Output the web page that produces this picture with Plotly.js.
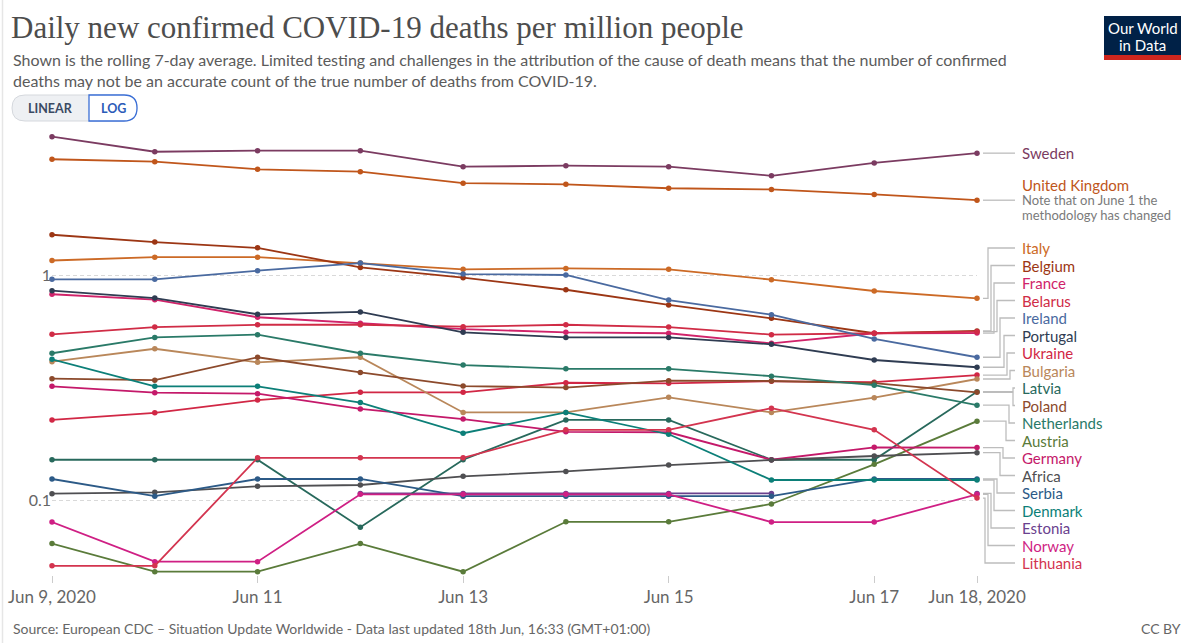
<!DOCTYPE html>
<html>
<head>
<meta charset="utf-8">
<script src="https://cdn.plot.ly/plotly-3.0.1.min.js"></script>
<style>
  html, body { margin: 0; padding: 0; background: #fff; }
  #chart { width: 1200px; height: 643px; }
</style>
</head>
<body>
<div id="chart"></div>
<script>
// dates (one point per day)
const dates = ['2020-06-09', '2020-06-10', '2020-06-11', '2020-06-12', '2020-06-13',
  '2020-06-14', '2020-06-15', '2020-06-16', '2020-06-17', '2020-06-18'];

// daily new confirmed deaths per million, rolling 7-day average
const sweden      = [4.12, 3.53, 3.57, 3.57, 3.03, 3.06, 3.03, 2.76, 3.15, 3.48];
const uk          = [3.27, 3.19, 2.95, 2.88, 2.56, 2.53, 2.43, 2.40, 2.28, 2.15];
const italy       = [1.16, 1.20, 1.20, 1.13, 1.06, 1.07, 1.06, 0.953, 0.849, 0.788];
const belgium     = [1.51, 1.40, 1.32, 1.08, 0.973, 0.86, 0.736, 0.642, 0.551, 0.564];
const france      = [0.821, 0.777, 0.649, 0.61, 0.575, 0.556, 0.551, 0.497, 0.551, 0.552];
const belarus     = [0.545, 0.587, 0.601, 0.601, 0.589, 0.601, 0.587, 0.543, 0.551, 0.56];
const ireland     = [0.957, 0.957, 1.045, 1.13, 1.01, 1.0, 0.774, 0.666, 0.52, 0.431];
const portugal    = [0.852, 0.79, 0.669, 0.685, 0.556, 0.528, 0.528, 0.492, 0.419, 0.389];
const ukraine     = [0.227, 0.244, 0.278, 0.301, 0.301, 0.332, 0.33, 0.337, 0.334, 0.359];
const bulgaria    = [0.412, 0.47, 0.409, 0.431, 0.245, 0.245, 0.286, 0.245, 0.285, 0.345];
const latvia      = [0.151, 0.151, 0.151, 0.0757, 0.151, 0.227, 0.227, 0.151, 0.151, 0.303];
const poland      = [0.346, 0.341, 0.431, 0.369, 0.321, 0.316, 0.339, 0.338, 0.331, 0.301];
const netherlands = [0.449, 0.528, 0.543, 0.449, 0.398, 0.383, 0.383, 0.355, 0.324, 0.264];
const austria     = [0.064, 0.048, 0.048, 0.064, 0.048, 0.080, 0.080, 0.096, 0.144, 0.224];
const germany     = [0.32, 0.30, 0.297, 0.254, 0.229, 0.201, 0.20, 0.151, 0.1715, 0.171];
const africa      = [0.1067, 0.1082, 0.115, 0.1166, 0.1274, 0.134, 0.143, 0.1506, 0.1569, 0.1623];
const serbia      = [0.124, 0.104, 0.124, 0.124, 0.104, 0.104, 0.104, 0.104, 0.124, 0.124];
const denmark     = [0.422, 0.32, 0.32, 0.271, 0.198, 0.245, 0.196, 0.1227, 0.1227, 0.1227];
const estonia     = [null, null, null, 0.107, 0.107, 0.107, 0.107, 0.107, null, 0.107];
const norway      = [0.0798, 0.0532, 0.0532, 0.106, 0.106, 0.106, 0.106, 0.0798, 0.0798, 0.106];
const lithuania   = [0.051, 0.051, 0.154, 0.154, 0.154, 0.205, 0.205, 0.256, 0.205, 0.102];

const xTickVals = ['2020-06-09', '2020-06-11', '2020-06-13', '2020-06-15', '2020-06-17', '2020-06-18'];
const xTickText = ['Jun 9, 2020', 'Jun 11', 'Jun 13', 'Jun 15', 'Jun 17', 'Jun 18, 2020'];
const yTickVals = [0.1, 1];
const yTickText = ['0.1', '1'];

// series, colours and where their label sits in the right-hand list
// (joint = x pixel of the elbow in the connector line)
const series = [
  {name: 'Sweden', y: sweden, color: '#7b3b61', labelY: 153, joint: null},
  {name: 'United Kingdom', y: uk, color: '#c0561b', labelY: 185, joint: null},
  {name: 'Italy', y: italy, color: '#cc6a26', labelY: 248, joint: 988},
  {name: 'Belgium', y: belgium, color: '#9c3614', labelY: 265.5, joint: 991},
  {name: 'France', y: france, color: '#d0236a', labelY: 283, joint: 994},
  {name: 'Belarus', y: belarus, color: '#d02c46', labelY: 300.5, joint: 997},
  {name: 'Ireland', y: ireland, color: '#4a6aa0', labelY: 318, joint: 1000},
  {name: 'Portugal', y: portugal, color: '#2f3c52', labelY: 335.5, joint: 1004},
  {name: 'Ukraine', y: ukraine, color: '#d12745', labelY: 353, joint: 1007},
  {name: 'Bulgaria', y: bulgaria, color: '#b9875a', labelY: 370.5, joint: 1010},
  {name: 'Latvia', y: latvia, color: '#28695c', labelY: 388, joint: 1013},
  {name: 'Poland', y: poland, color: '#8c4a2c', labelY: 405.5, joint: 1013},
  {name: 'Netherlands', y: netherlands, color: '#2a7a68', labelY: 423, joint: 1009},
  {name: 'Austria', y: austria, color: '#5a7b3a', labelY: 440.5, joint: 1006},
  {name: 'Germany', y: germany, color: '#c4196a', labelY: 458, joint: 1003},
  {name: 'Africa', y: africa, color: '#4f4f52', labelY: 475.5, joint: 1000},
  {name: 'Serbia', y: serbia, color: '#2c5a87', labelY: 493, joint: 997},
  {name: 'Denmark', y: denmark, color: '#0c7f78', labelY: 510.5, joint: 994},
  {name: 'Estonia', y: estonia, color: '#6a418e', labelY: 528, joint: 991},
  {name: 'Norway', y: norway, color: '#cf1f84', labelY: 545.5, joint: 988},
  {name: 'Lithuania', y: lithuania, color: '#d3344f', labelY: 563, joint: 985}
];

// page geometry
const W = 1200, H = 643;
const M = {l: 52, r: 223, t: 130, b: 68};
const PW = W - M.l - M.r, PH = H - M.t - M.b;
const YR = [(275 - 575) / 225, (275 - 130) / 225]; // log10 range of the y axis
const px = p => (p - M.l) / PW;
const py = p => (H - M.b - p) / PH;
const yPaper = v => (Math.log10(v) - YR[0]) / (YR[1] - YR[0]);

const font = 'Lato, "Open Sans", sans-serif';

// Estonia sits underneath the others, the rest draw in list order
let drawOrder = [series.find(s => s.name === 'Estonia')]
  .concat(series.filter(s => s.name !== 'Estonia'));

let traces = drawOrder.map(s => ({
  x: dates,
  y: s.y,
  type: 'scatter',
  mode: 'lines+markers',
  name: s.name,
  line: {color: s.color, width: 1.8},
  marker: {color: s.color, size: 5.5},
  cliponaxis: false,
  hoverinfo: 'skip',
  showlegend: false
}));

let shapes = [];
let annotations = [];

// text helper, pixel position on the page
function note(x, y, text, size, color, xanchor, extra) {
  annotations.push(Object.assign({xref: 'paper', yref: 'paper', x: px(x), y: py(y),
    xanchor: xanchor || 'left', yanchor: 'middle', showarrow: false, text: text,
    font: {family: font, size: size, color: color}}, extra || {}));
}

// connectors + labels on the right
series.forEach(s => {
  let last = s.y[s.y.length - 1];
  let y0 = yPaper(last);
  let path;
  if (s.joint === null) {
    path = 'M' + px(983) + ',' + y0 + ' H' + px(1015);
  } else {
    path = 'M' + px(983) + ',' + y0 + ' H' + px(s.joint) +
      ' V' + py(s.labelY) + ' H' + px(1015);
  }
  shapes.push({type: 'path', xref: 'paper', yref: 'paper', path: path,
    line: {color: '#bdbdbd', width: 1.3}});
  note(1020, s.labelY, s.name, 15, s.color);
});
note(1020, 199.5, 'Note that on June 1 the', 13, '#7a7a7a');
note(1020, 214.5, 'methodology has changed', 13, '#7a7a7a');

// subtitle
annotations.push({xref: 'paper', yref: 'paper', x: px(11), y: py(48),
  xanchor: 'left', yanchor: 'top', showarrow: false, align: 'left',
  text: 'Shown is the rolling 7-day average. Limited testing and challenges in the attribution of the cause of death means that the number of confirmed<br>deaths may not be an accurate count of the true number of deaths from COVID-19.',
  font: {family: font, size: 16, color: '#5b5b5b'}});

// LINEAR / LOG toggle
function roundRect(x0, y0, x1, y1, rl, rr) {
  const P = (x, y) => px(x) + ',' + py(y);
  return 'M' + P(x0 + rl, y0) + ' L' + P(x1 - rr, y0) +
    ' Q' + P(x1, y0) + ' ' + P(x1, y0 + rr) +
    ' L' + P(x1, y1 - rr) + ' Q' + P(x1, y1) + ' ' + P(x1 - rr, y1) +
    ' L' + P(x0 + rl, y1) + ' Q' + P(x0, y1) + ' ' + P(x0, y1 - rl) +
    ' L' + P(x0, y0 + rl) + ' Q' + P(x0, y0) + ' ' + P(x0 + rl, y0) + ' Z';
}
shapes.push({type: 'path', xref: 'paper', yref: 'paper',
  path: roundRect(12, 95, 137, 121, 13, 13), fillcolor: '#eef0f3',
  line: {color: '#d5d8dd', width: 1}});
shapes.push({type: 'path', xref: 'paper', yref: 'paper',
  path: roundRect(89, 95, 137, 121, 0, 13), fillcolor: '#ffffff',
  line: {color: '#3b6fd6', width: 1.3}});
note(50.5, 108.5, '<b>LINEAR</b>', 12.5, '#3b4a63', 'center');
note(113, 108.5, '<b>LOG</b>', 12.5, '#2b5bb8', 'center');

// Our World in Data logo
shapes.push({type: 'rect', xref: 'paper', yref: 'paper',
  x0: px(1104), x1: px(1181), y0: py(16), y1: py(56),
  fillcolor: '#002147', line: {width: 0}});
shapes.push({type: 'rect', xref: 'paper', yref: 'paper',
  x0: px(1104), x1: px(1181), y0: py(55), y1: py(60),
  fillcolor: '#ce261e', line: {width: 0}});
note(1142.5, 27.5, 'Our World', 15, '#ffffff', 'center');
note(1142.5, 44.5, 'in Data', 15, '#ffffff', 'center');

// footer
note(11, 628, 'Source: European CDC – Situation Update Worldwide - Data last updated 18th Jun, 16:33 (GMT+01:00)', 14, '#666666');
note(1183, 628, 'CC BY', 14, '#666666', 'right');

// faint frame line at the left edge
shapes.push({type: 'line', xref: 'paper', yref: 'paper',
  x0: px(2.5), x1: px(2.5), y0: py(0), y1: py(H),
  line: {color: '#e6e6e6', width: 1.5}});

let layout = {
  width: W,
  height: H,
  margin: M,
  paper_bgcolor: '#ffffff',
  plot_bgcolor: '#ffffff',
  title: {
    text: 'Daily new confirmed COVID-19 deaths per million people',
    xref: 'container', yref: 'container',
    x: 11 / W, xanchor: 'left',
    y: 1 - 27 / H, yanchor: 'middle',
    font: {family: '"Liberation Serif", "DejaVu Serif", serif', size: 31, color: '#4d4d4d'}
  },
  xaxis: {
    type: 'date',
    range: [dates[0], dates[dates.length - 1]],
    tickvals: xTickVals,
    ticktext: xTickText,
    ticks: 'outside',
    ticklen: 7,
    tickcolor: '#cccccc',
    showgrid: false,
    zeroline: false,
    showline: false,
    tickfont: {family: font, size: 17, color: '#666666'}
  },
  yaxis: {
    type: 'log',
    range: YR,
    tickvals: yTickVals,
    ticktext: yTickText,
    ticks: '',
    showgrid: true,
    gridcolor: '#d9d9d9',
    griddash: '4px,3px',
    gridwidth: 1,
    zeroline: false,
    showline: false,
    tickfont: {family: font, size: 16, color: '#666666'}
  },
  shapes: shapes,
  annotations: annotations
};

Plotly.newPlot('chart', traces, layout, {displayModeBar: false, staticPlot: true});
</script>
</body>
</html>
